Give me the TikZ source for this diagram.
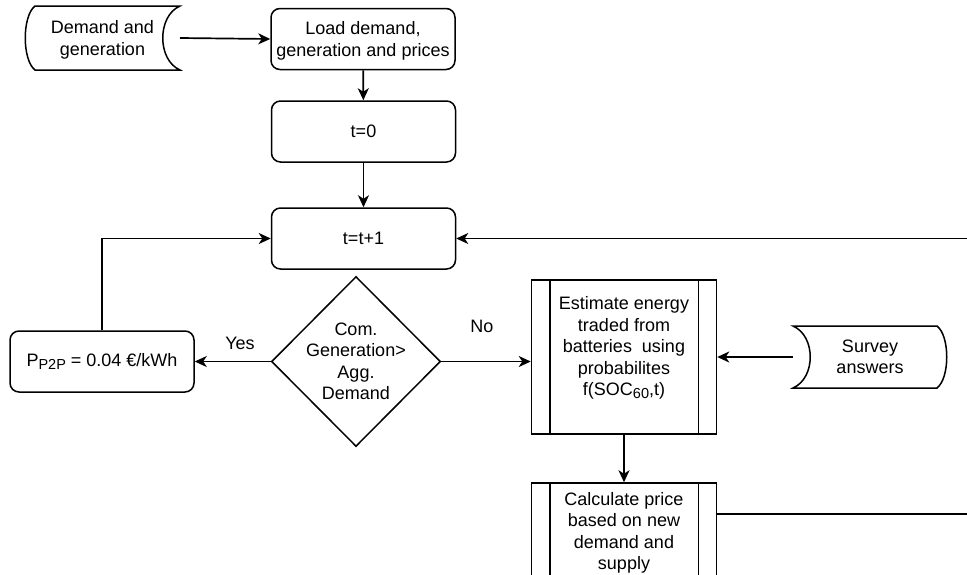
\documentclass[tikz,border=0pt]{standalone}
\usepackage{fontspec}
\setmainfont{Liberation Sans}
\usetikzlibrary{arrows.meta,calc}

% lowered, smaller text for subscripts
\newcommand\lowtxt[1]{\raisebox{-3.2pt}{\fontsize{14.5}{14.5}\selectfont #1}}

\begin{document}
\begin{tikzpicture}[x=1pt,y=-1pt,
  every node/.style={font=\fontsize{18}{21.5}\selectfont, align=center, inner sep=0pt},
  outline/.style={line width=1.5pt, draw=black},
  proc/.style={outline, rounded corners=9pt, minimum width=184pt, minimum height=61pt},
  subproc/.style={outline, minimum width=185pt},
  blank/.style={draw=none},
  arr/.style={line width=1.7pt, -{Stealth[length=12pt,width=11pt,inset=3.5pt]}}
]
\useasboundingbox (0,0) rectangle (967,574);
\clip (0,0) rectangle (967,574);

% process steps
\node[proc] (load) at (363,39) {};
\node (loadtext) at (363,41) {Load demand,\\generation and prices};
\node[proc] (t0) at (363.5,131.5) {t=0};
\node[proc] (tinc) at (363.5,238.5) {t=t+1};
\node[proc] (ppp) at (102,361.5) {P\lowtxt{P2P} = 0.04 €/kWh};

% decision
\node[blank, minimum width=168pt, minimum height=169pt] (dec) at (356,361.5)
  {Com.\\Generation>\\Agg.\\Demand};
\draw[outline] (dec.north) -- (dec.east) -- (dec.south) -- (dec.west) -- cycle;

% predefined processes
\node[subproc, minimum height=154pt] (est) at (624,357) {};
\node (esttext) at (624,348)
  {Estimate energy\\traded from\\batteries\ \ using\\probabilites\\f(SOC\lowtxt{60},t)};
\draw[outline] ([xshift=19pt]est.north west) -- ([xshift=19pt]est.south west);
\draw[outline] ([xshift=-19pt]est.north east) -- ([xshift=-19pt]est.south east);

\node[subproc, minimum height=100pt] (calc) at (624,533)
  {Calculate price\\based on new\\demand and\\supply};
\draw[outline] ([xshift=19pt]calc.north west) -- ([xshift=19pt]calc.south west);
\draw[outline] ([xshift=-19pt]calc.north east) -- ([xshift=-19pt]calc.south east);

% stored data inputs: curved left side out, curved right side in
\node[blank, minimum width=155pt, minimum height=64pt] (src) at (102.5,40) {Demand and\\generation};
\draw[outline] (35,6) -- (180,6) .. controls (157,16) and (157,60) .. (180,70)
  -- (35,70) .. controls (22,60) and (22,16) .. (35,6) -- cycle;

\node[blank, minimum width=154pt, minimum height=62pt] (srv) at (870,357) {Survey\\answers};
\draw[outline] (793,326) -- (937,326) .. controls (950,336) and (950,378) .. (937,388)
  -- (793,388) .. controls (816,378) and (816,336) .. (793,326) -- cycle;

% branch labels
\node (yes) at (240,343) {Yes};
\node (no) at (482,326) {No};

% connectors
\draw[arr] (180,38) -- (load.west);
\draw[arr] (load) -- (t0);
\draw[arr] (t0) -- (tinc);
\draw[arr] (dec.west) -- (ppp.east);
\draw[arr] (dec.east) -- (dec.east -| est.west);
\draw[arr] (793,357) -- (est.east);
\draw[arr] (est) -- (calc);
\draw[arr] (ppp.north) |- (tinc.west);
\draw[arr] ([yshift=-32pt]calc.north east) -- ++(270,0) |- (tinc.east);
\end{tikzpicture}
\end{document}
